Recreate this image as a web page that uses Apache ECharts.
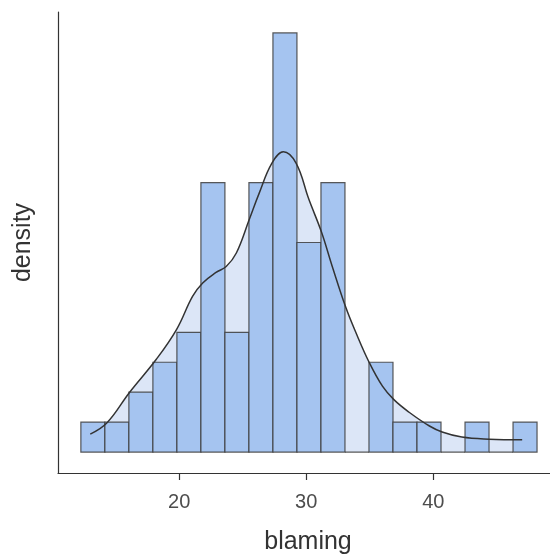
<!DOCTYPE html>
<html>
<head>
<meta charset="utf-8">
<title>blaming</title>
<script src="https://cdn.jsdelivr.net/npm/echarts@6/dist/echarts.min.js"></script>
<style>
    html, body { margin: 0; padding: 0; background: #fff; }
    #main { width: 550px; height: 556px; }
</style>
</head>
<body>
<div id="main"></div>
<script>
// histogram bins (blaming scores)
var binStart = 12.26
    , binWidth = 1.89
    , binCounts = [1, 1, 2, 3, 4, 9, 4, 9, 14, 7, 9, 0, 3, 1, 1, 0, 1, 0, 1];

// density curve, scaled to counts
var densX = [13.0, 14.3, 16.1, 18.2, 19.8, 21.05, 21.85, 22.9, 23.7, 24.5, 25.5, 26.3, 27.3, 28.2, 29.2, 30.2, 31.2, 32.05, 33.1, 33.9, 34.95, 36.0, 36.9, 38.1, 39.7, 40.7, 42.25, 44.4, 47.0];
var densY = [0.6, 0.97, 2.0, 3.1, 4.1, 5.2, 5.65, 6.0, 6.2, 6.65, 7.75, 8.65, 9.65, 10.03, 9.65, 8.45, 7.35, 6.2, 4.85, 4.0, 3.0, 2.2, 1.75, 1.33, 0.87, 0.67, 0.5, 0.43, 0.41];

var xTicks = [20, 30, 40];

var bins = [];
for (var i = 0; i < binCounts.length; i++) {
    bins.push([binStart + i * binWidth, binStart + (i + 1) * binWidth, binCounts[i]]);
}
var dens = [];
for (var j = 0; j < densX.length; j++) {
    dens.push([densX[j], densY[j]]);
}

var FONT = '"Liberation Sans", Arial, sans-serif';
var myChart = echarts.init(document.getElementById('main'), null, { renderer: 'canvas' });

var option = {
    animation: false,
    backgroundColor: '#ffffff',
    grid: { left: 58, top: 12, right: 0, bottom: 83, containLabel: false, outerBoundsMode: 'none' },
    xAxis: {
        type: 'value',
        min: 10.46,
        max: 49.19,
        name: 'blaming',
        nameLocation: 'middle',
        nameGap: 57,
        nameTextStyle: { fontFamily: FONT, fontSize: 25, color: '#333333', padding: [0, 0, 0, 8] },
        axisLine: { show: true, onZero: false, lineStyle: { color: '#333333', width: 1.2 } },
        axisTick: { show: true, length: 7, customValues: xTicks, lineStyle: { color: '#333333', width: 1.2 } },
        axisLabel: { customValues: xTicks, margin: 19, fontFamily: FONT, fontSize: 20, color: '#4d4d4d' },
        splitLine: { show: false }
    },
    yAxis: {
        type: 'value',
        min: -0.7,
        max: 14.7,
        name: 'density',
        nameLocation: 'middle',
        nameRotate: 90,
        nameGap: 22,
        nameTextStyle: { fontFamily: FONT, fontSize: 25, color: '#333333' },
        axisLine: { show: true, onZero: false, lineStyle: { color: '#333333', width: 1.2 } },
        axisTick: { show: false },
        axisLabel: { show: false },
        splitLine: { show: false }
    },
    series: [
        {
            // density fill behind the bars
            type: 'line',
            data: dens,
            smooth: 0.4,
            showSymbol: false,
            z: 1,
            lineStyle: { width: 0 },
            areaStyle: { color: '#dce6f7', opacity: 1, origin: 0 }
        },
        {
            type: 'custom',
            data: bins,
            z: 2,
            renderItem: function (params, api) {
                var p0 = api.coord([api.value(0), api.value(2)]);
                var p1 = api.coord([api.value(1), 0]);
                return {
                    type: 'rect',
                    shape: { x: p0[0], y: p0[1], width: p1[0] - p0[0], height: p1[1] - p0[1] },
                    style: { fill: '#a5c4f0', stroke: 'rgba(60,60,60,0.85)', lineWidth: 1.2 }
                };
            }
        },
        {
            // density line on top
            type: 'line',
            data: dens,
            smooth: 0.4,
            showSymbol: false,
            z: 3,
            lineStyle: { color: '#333333', width: 1.5 }
        }
    ]
};

myChart.setOption(option);
</script>
</body>
</html>
